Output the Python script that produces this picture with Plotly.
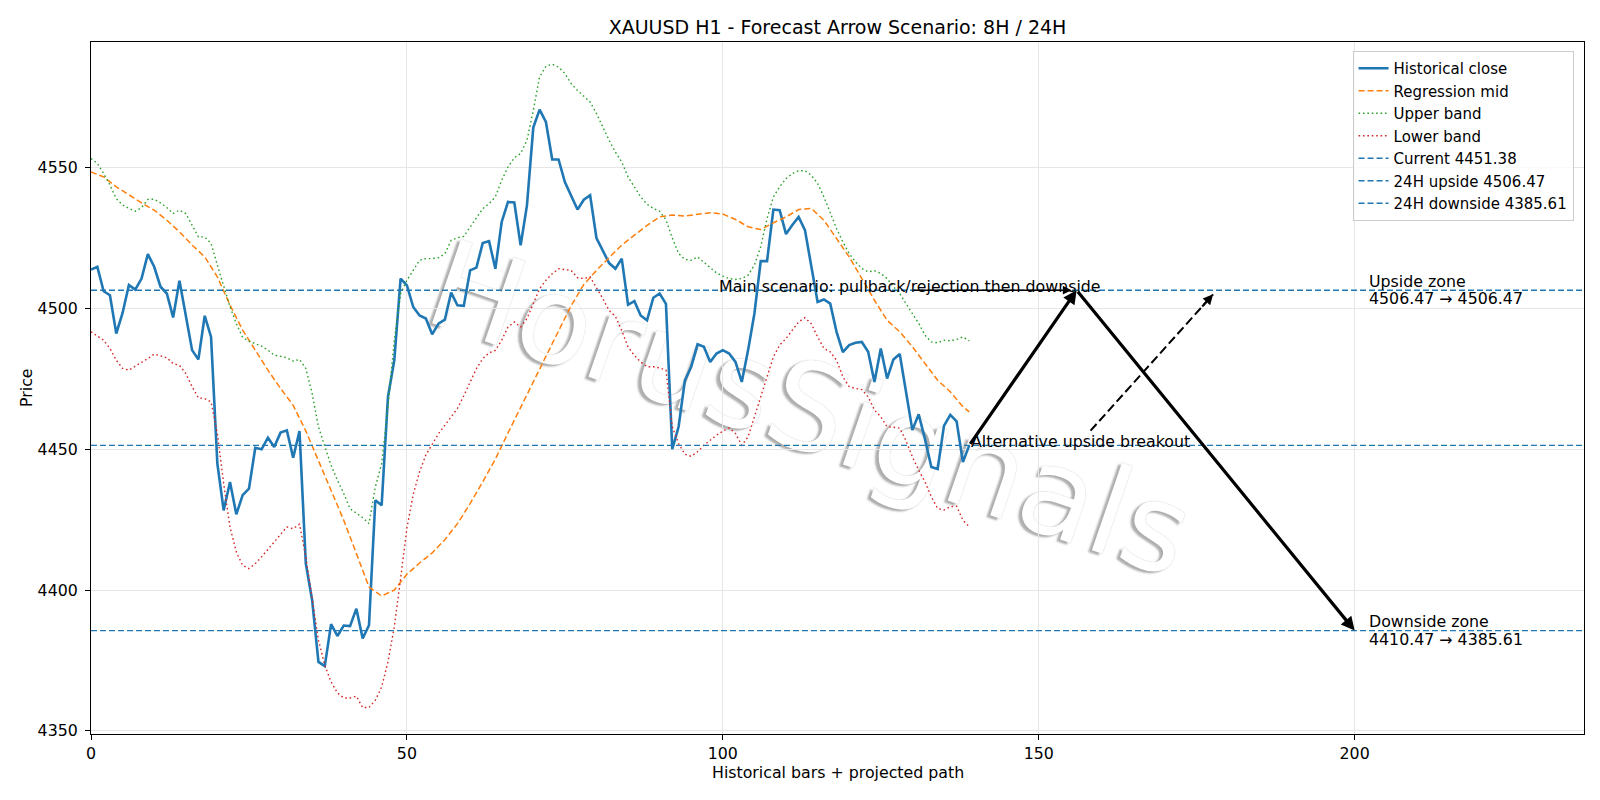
import plotly.graph_objects as go

# ---------------- data ----------------
close = [4513.8, 4514.8, 4506.1, 4504.7, 4491.1, 4498.4, 4508.3, 4506.7, 4510.6, 4519.3,
         4514.8, 4507.7, 4505.3, 4496.8, 4509.8, 4497.6, 4485.2, 4481.9, 4497.4, 4489.9,
         4444.9, 4428.3, 4438.4, 4426.9, 4433.7, 4436.0, 4450.5, 4450.0, 4454.1, 4450.8,
         4455.9, 4456.7, 4447.0, 4456.5, 4409.4, 4396.4, 4374.5, 4373.0, 4387.9, 4383.7,
         4387.4, 4387.2, 4393.4, 4382.8, 4387.5, 4431.9, 4430.1, 4468.5, 4481.6, 4510.6,
         4508.2, 4500.5, 4497.5, 4496.4, 4490.8, 4494.6, 4496.0, 4505.6, 4501.1, 4500.9,
         4513.5, 4514.5, 4523.2, 4523.9, 4514.1, 4530.7, 4537.8, 4537.6, 4522.4, 4536.6,
         4564.2, 4570.6, 4566.2, 4552.9, 4552.9, 4544.9, 4539.8, 4535.1, 4538.6, 4540.2,
         4525.0, 4520.6, 4516.1, 4514.1, 4517.7, 4501.3, 4502.6, 4497.5, 4495.8, 4503.8,
         4505.3, 4501.6, 4450.0, 4458.0, 4474.5, 4479.3, 4487.3, 4486.4, 4481.0, 4484.0,
         4485.2, 4484.0, 4481.0, 4473.9, 4485.2, 4498.2, 4516.8, 4516.8, 4535.1, 4534.9,
         4526.4, 4529.6, 4532.5, 4527.8, 4514.8, 4502.3, 4503.2, 4501.7, 4491.7, 4484.5,
         4487.0, 4487.8, 4488.1, 4484.6, 4473.9, 4485.8, 4475.1, 4481.9, 4483.8, 4469.8,
         4456.8, 4462.4, 4453.6, 4443.7, 4443.0, 4458.3, 4462.2, 4459.9, 4445.5, 4451.38]

mid_x = [0, 2, 4, 6, 8, 10, 12, 14, 16, 18, 20, 22, 24, 26, 28, 30, 32, 34, 36, 38,
         40, 42, 44, 46, 48, 50, 52, 54, 56, 58, 60, 62, 64, 66, 68, 70, 72, 74, 76, 78,
         80, 82, 84, 86, 88, 90, 92, 94, 96, 98, 100, 102, 104, 106, 108, 110, 112, 114,
         116, 118, 120, 122, 124, 126, 128, 130, 132, 134, 136, 138, 139]
mid = [4548.5, 4546.7, 4543.2, 4540.2, 4537.5, 4534.9, 4531.3, 4527.2, 4522.5, 4518.3,
       4511.2, 4501.2, 4492.3, 4485.2, 4478.1, 4471.6, 4465.6, 4456.5, 4446.1, 4435.4,
       4424.8, 4413.0, 4401.1, 4397.9, 4400.0, 4405.6, 4409.6, 4413.2, 4417.9, 4423.6,
       4430.7, 4438.4, 4446.5, 4455.8, 4465.0, 4474.0, 4483.0, 4492.0, 4501.0, 4508.5,
       4513.5, 4518.0, 4522.5, 4526.0, 4529.5, 4532.5, 4533.2, 4532.8, 4533.5, 4534.0,
       4533.5, 4531.6, 4529.0, 4528.0, 4530.4, 4532.5, 4535.1, 4535.5, 4531.3, 4524.8,
       4518.3, 4510.6, 4502.9, 4495.8, 4491.7, 4486.4, 4480.4, 4474.5, 4470.4, 4465.1,
       4463.3]

upper = [4553.2, 4551.5, 4547.9, 4543.8, 4539.0, 4536.7, 4535.5, 4534.5, 4535.8, 4538.7,
         4538.8, 4537.5, 4535.8, 4533.7, 4534.9, 4533.7, 4529.6, 4525.4, 4525.4, 4523.1,
         4515.4, 4507.7, 4500.6, 4494.6, 4489.7, 4488.4, 4487.5, 4486.6, 4485.2, 4483.4,
         4483.0, 4482.5, 4481.3, 4481.9, 4478.7, 4469.8, 4457.9, 4450.8, 4444.3, 4439.0,
         4434.3, 4428.9, 4427.2, 4425.7, 4423.6, 4436.6, 4444.9, 4465.0, 4488.7, 4505.2,
         4510.0, 4513.5, 4517.1, 4517.7, 4517.7, 4518.0, 4519.4, 4524.2, 4525.1, 4525.6,
         4528.9, 4531.9, 4535.4, 4537.2, 4539.6, 4545.5, 4550.2, 4553.5, 4555.0, 4559.7,
         4570.3, 4582.2, 4586.0, 4586.7, 4585.7, 4583.4, 4579.8, 4577.4, 4575.3, 4573.3,
         4569.2, 4564.4, 4559.7, 4555.5, 4552.0, 4546.7, 4543.1, 4539.6, 4537.0, 4535.5,
         4534.5, 4531.5, 4525.0, 4519.5, 4517.4, 4517.1, 4518.3, 4516.5, 4514.5, 4512.6,
         4511.5, 4510.6, 4510.3, 4510.6, 4511.8, 4515.4, 4521.9, 4531.9, 4539.6, 4543.2,
         4546.1, 4547.9, 4548.9, 4548.9, 4547.3, 4544.4, 4539.6, 4533.7, 4528.4, 4523.6,
         4519.5, 4516.5, 4514.2, 4513.0, 4513.4, 4512.4, 4510.6, 4507.7, 4505.3, 4501.7,
         4498.2, 4494.7, 4490.5, 4488.1, 4487.8, 4488.7, 4488.5, 4489.0, 4489.9, 4488.5]

lower = [4491.7, 4490.2, 4488.7, 4485.8, 4481.6, 4478.7, 4478.1, 4479.5, 4480.7, 4482.2,
         4483.8, 4483.2, 4482.5, 4480.4, 4479.8, 4476.9, 4472.2, 4468.2, 4468.0, 4466.8,
         4455.6, 4437.8, 4422.4, 4413.5, 4408.8, 4407.6, 4409.4, 4411.8, 4414.4, 4417.1,
         4420.0, 4422.4, 4421.8, 4423.4, 4411.8, 4396.4, 4382.2, 4373.3, 4367.4, 4363.5,
         4361.7, 4361.7, 4362.3, 4358.3, 4358.3, 4360.9, 4365.6, 4374.5, 4386.9, 4404.0,
         4422.0, 4434.0, 4442.0, 4448.0, 4452.0, 4455.5, 4458.5, 4461.5, 4464.5, 4469.0,
         4473.5, 4478.6, 4482.2, 4484.2, 4485.1, 4488.7, 4493.4, 4495.2, 4493.4, 4496.4,
         4501.7, 4507.0, 4510.0, 4512.3, 4514.1, 4513.8, 4513.5, 4510.9, 4510.6, 4511.2,
         4507.6, 4503.5, 4499.3, 4497.2, 4492.2, 4486.3, 4483.3, 4481.0, 4479.3, 4479.3,
         4478.9, 4478.1, 4458.0, 4452.0, 4448.2, 4447.5, 4449.1, 4451.4, 4453.2, 4455.0,
         4456.4, 4457.6, 4455.6, 4451.4, 4454.4, 4461.5, 4468.6, 4475.7, 4482.8, 4487.0,
         4489.3, 4492.3, 4495.2, 4496.7, 4494.6, 4489.9, 4485.8, 4484.6, 4481.6, 4475.7,
         4472.2, 4471.6, 4471.2, 4468.6, 4463.9, 4461.5, 4458.0, 4457.8, 4457.5, 4453.0,
         4447.3, 4442.6, 4438.4, 4433.1, 4429.0, 4428.4, 4429.6, 4429.8, 4424.8, 4422.5]

bars = list(range(len(close)))

CURRENT = 4451.38
UPSIDE_24H = 4506.47
DOWNSIDE_24H = 4385.61
DOWNSIDE_FROM = 4410.47

# projected path (bar index, price)
path_x = [139, 156, 200]
path_y = [CURRENT, UPSIDE_24H, DOWNSIDE_24H]
alt_x = [158.2, 177.6]
alt_y = [4456.6, 4505.0]
main_label_x = 99
main_arrow_tail_x = 130
zone_label_x = 202

x_ticks = [0, 50, 100, 150, 200]
y_ticks = [4350, 4400, 4450, 4500, 4550]
X_RANGE = [0, 236.3]
Y_RANGE = [4348.9, 4594.6]

BLUE = "#1f77b4"
ORANGE = "#ff7f0e"
GREEN = "#2ca02c"
RED = "#d62728"
FONT = "DejaVu Sans"
FS = 15.8

fig = go.Figure()
fig.add_trace(go.Scatter(x=bars, y=close, mode="lines", name="Historical close",
                         line=dict(color=BLUE, width=2.6)))
fig.add_trace(go.Scatter(x=mid_x, y=mid, mode="lines", name="Regression mid",
                         line=dict(color=ORANGE, width=1.5, dash="6px,3px")))
fig.add_trace(go.Scatter(x=bars, y=upper, mode="lines", name="Upper band",
                         line=dict(color=GREEN, width=1.4, dash="1.6px,2.8px")))
fig.add_trace(go.Scatter(x=bars, y=lower, mode="lines", name="Lower band",
                         line=dict(color=RED, width=1.4, dash="1.6px,2.8px")))
for name, val in [(f"Current {CURRENT:.2f}", CURRENT),
                  (f"24H upside {UPSIDE_24H:.2f}", UPSIDE_24H),
                  (f"24H downside {DOWNSIDE_24H:.2f}", DOWNSIDE_24H)]:
    fig.add_trace(go.Scatter(x=X_RANGE, y=[val, val], mode="lines", name=name,
                             line=dict(color=BLUE, width=1.4, dash="6px,3px")))

# dashed alternative arrow shaft
fig.add_trace(go.Scatter(x=alt_x, y=alt_y, mode="lines", showlegend=False,
                         line=dict(color="black", width=2, dash="9px,4px"),
                         hoverinfo="skip"))

# watermark: white text with grey shadow, drawn beneath the data
fig.add_shape(type="rect", xref="paper", yref="paper", x0=0.0, x1=0.968, y0=0.0, y1=0.964,
              layer="below", line=dict(width=0), fillcolor="rgba(0,0,0,0)",
              label=dict(text="HorusSignals", textposition="middle center", textangle=19,
                         font=dict(family=FONT, size=122, color="white",
                                   shadow="-3px 3px 2px rgba(110,110,110,0.55), "
                                          "0px 0px 1px rgba(120,120,120,0.55)")))

annotations = []
# main forecast arrows
for i in range(len(path_x) - 1):
    annotations.append(dict(x=path_x[i + 1], y=path_y[i + 1], ax=path_x[i], ay=path_y[i],
                            xref="x", yref="y", axref="x", ayref="y", text="",
                            showarrow=True, arrowhead=2, arrowsize=0.85, arrowwidth=3.2,
                            arrowcolor="black", standoff=0))
# alternative arrow head
dxa = alt_x[1] - alt_x[0]
dya = alt_y[1] - alt_y[0]
annotations.append(dict(x=alt_x[1], y=alt_y[1], ax=alt_x[1] - 0.1 * dxa, ay=alt_y[1] - 0.1 * dya,
                        xref="x", yref="y", axref="x", ayref="y", text="",
                        showarrow=True, arrowhead=2, arrowsize=1.0, arrowwidth=2,
                        arrowcolor="black", standoff=0))
# thin arrow from main label to peak
annotations.append(dict(x=path_x[1] - 0.8, y=UPSIDE_24H, ax=main_arrow_tail_x, ay=UPSIDE_24H,
                        xref="x", yref="y", axref="x", ayref="y", text="",
                        showarrow=True, arrowhead=2, arrowsize=1.1, arrowwidth=1.6,
                        arrowcolor="black", standoff=0))

txt_font = dict(family=FONT, size=FS, color="black")
annotations.append(dict(x=main_label_x, y=UPSIDE_24H, xref="x", yref="y", xanchor="left",
                        yanchor="middle", showarrow=False, font=txt_font, yshift=4,
                        text="Main scenario: pullback/rejection then downside"))
annotations.append(dict(x=path_x[0], y=CURRENT, xref="x", yref="y", xanchor="left",
                        yanchor="middle", showarrow=False, font=txt_font, yshift=4,
                        text="Alternative upside breakout"))
zone_labels = [("Upside zone", f"{UPSIDE_24H:.2f} \u2192 {UPSIDE_24H:.2f}", UPSIDE_24H),
               ("Downside zone", f"{DOWNSIDE_FROM:.2f} \u2192 {DOWNSIDE_24H:.2f}", DOWNSIDE_24H)]
for head, vals, yv in zone_labels:
    annotations.append(dict(x=zone_label_x, y=yv, xref="x", yref="y", xanchor="left",
                            yanchor="middle", showarrow=False, font=txt_font, yshift=8.7,
                            text=head))
    annotations.append(dict(x=zone_label_x, y=yv, xref="x", yref="y", xanchor="left",
                            yanchor="middle", showarrow=False, font=txt_font, yshift=-8.7,
                            text=vals))
# axis titles
annotations.append(dict(text="Historical bars + projected path", xref="paper", yref="paper",
                        x=0.5, y=0, xanchor="center", yanchor="middle", yshift=-38,
                        showarrow=False, font=txt_font))
annotations.append(dict(text="Price", xref="paper", yref="paper", x=0, y=0.5,
                        xanchor="center", yanchor="middle", xshift=-65, textangle=-90,
                        showarrow=False, font=txt_font))

fig.update_layout(
    width=1600, height=800,
    margin=dict(l=91, r=16, t=42, b=66),
    paper_bgcolor="white", plot_bgcolor="white",
    font=dict(family=FONT, size=FS, color="black"),
    title=dict(text="XAUUSD H1 - Forecast Arrow Scenario: 8H / 24H", x=0.5, xref="paper",
               xanchor="center", y=1 - 27 / 800, yanchor="middle",
               font=dict(family=FONT, size=19, color="black")),
    showlegend=True,
    legend=dict(x=0.993, y=0.987, xanchor="right", yanchor="top", itemwidth=30,
                bgcolor="rgba(255,255,255,0.8)", bordercolor="#cccccc", borderwidth=1,
                font=dict(family=FONT, size=15, color="black")),
    annotations=annotations,
)
fig.update_xaxes(range=X_RANGE, tickvals=x_ticks, ticktext=[str(v) for v in x_ticks],
                 showline=True, linecolor="black", linewidth=1.1, mirror=True,
                 ticks="outside", ticklen=5, tickcolor="black", tickwidth=1.1,
                 showgrid=True, gridcolor="#e6e6e6", gridwidth=1, zeroline=False,
                 tickfont=dict(family=FONT, size=FS, color="black"))
fig.update_yaxes(range=Y_RANGE, tickvals=y_ticks, ticktext=[str(v) for v in y_ticks],
                 showline=True, linecolor="black", linewidth=1.1, mirror=True,
                 ticks="outside", ticklen=5, tickcolor="black", tickwidth=1.1,
                 ticklabelstandoff=4,
                 showgrid=True, gridcolor="#e6e6e6", gridwidth=1, zeroline=False,
                 tickfont=dict(family=FONT, size=FS, color="black"))

fig.write_html("out.html")
